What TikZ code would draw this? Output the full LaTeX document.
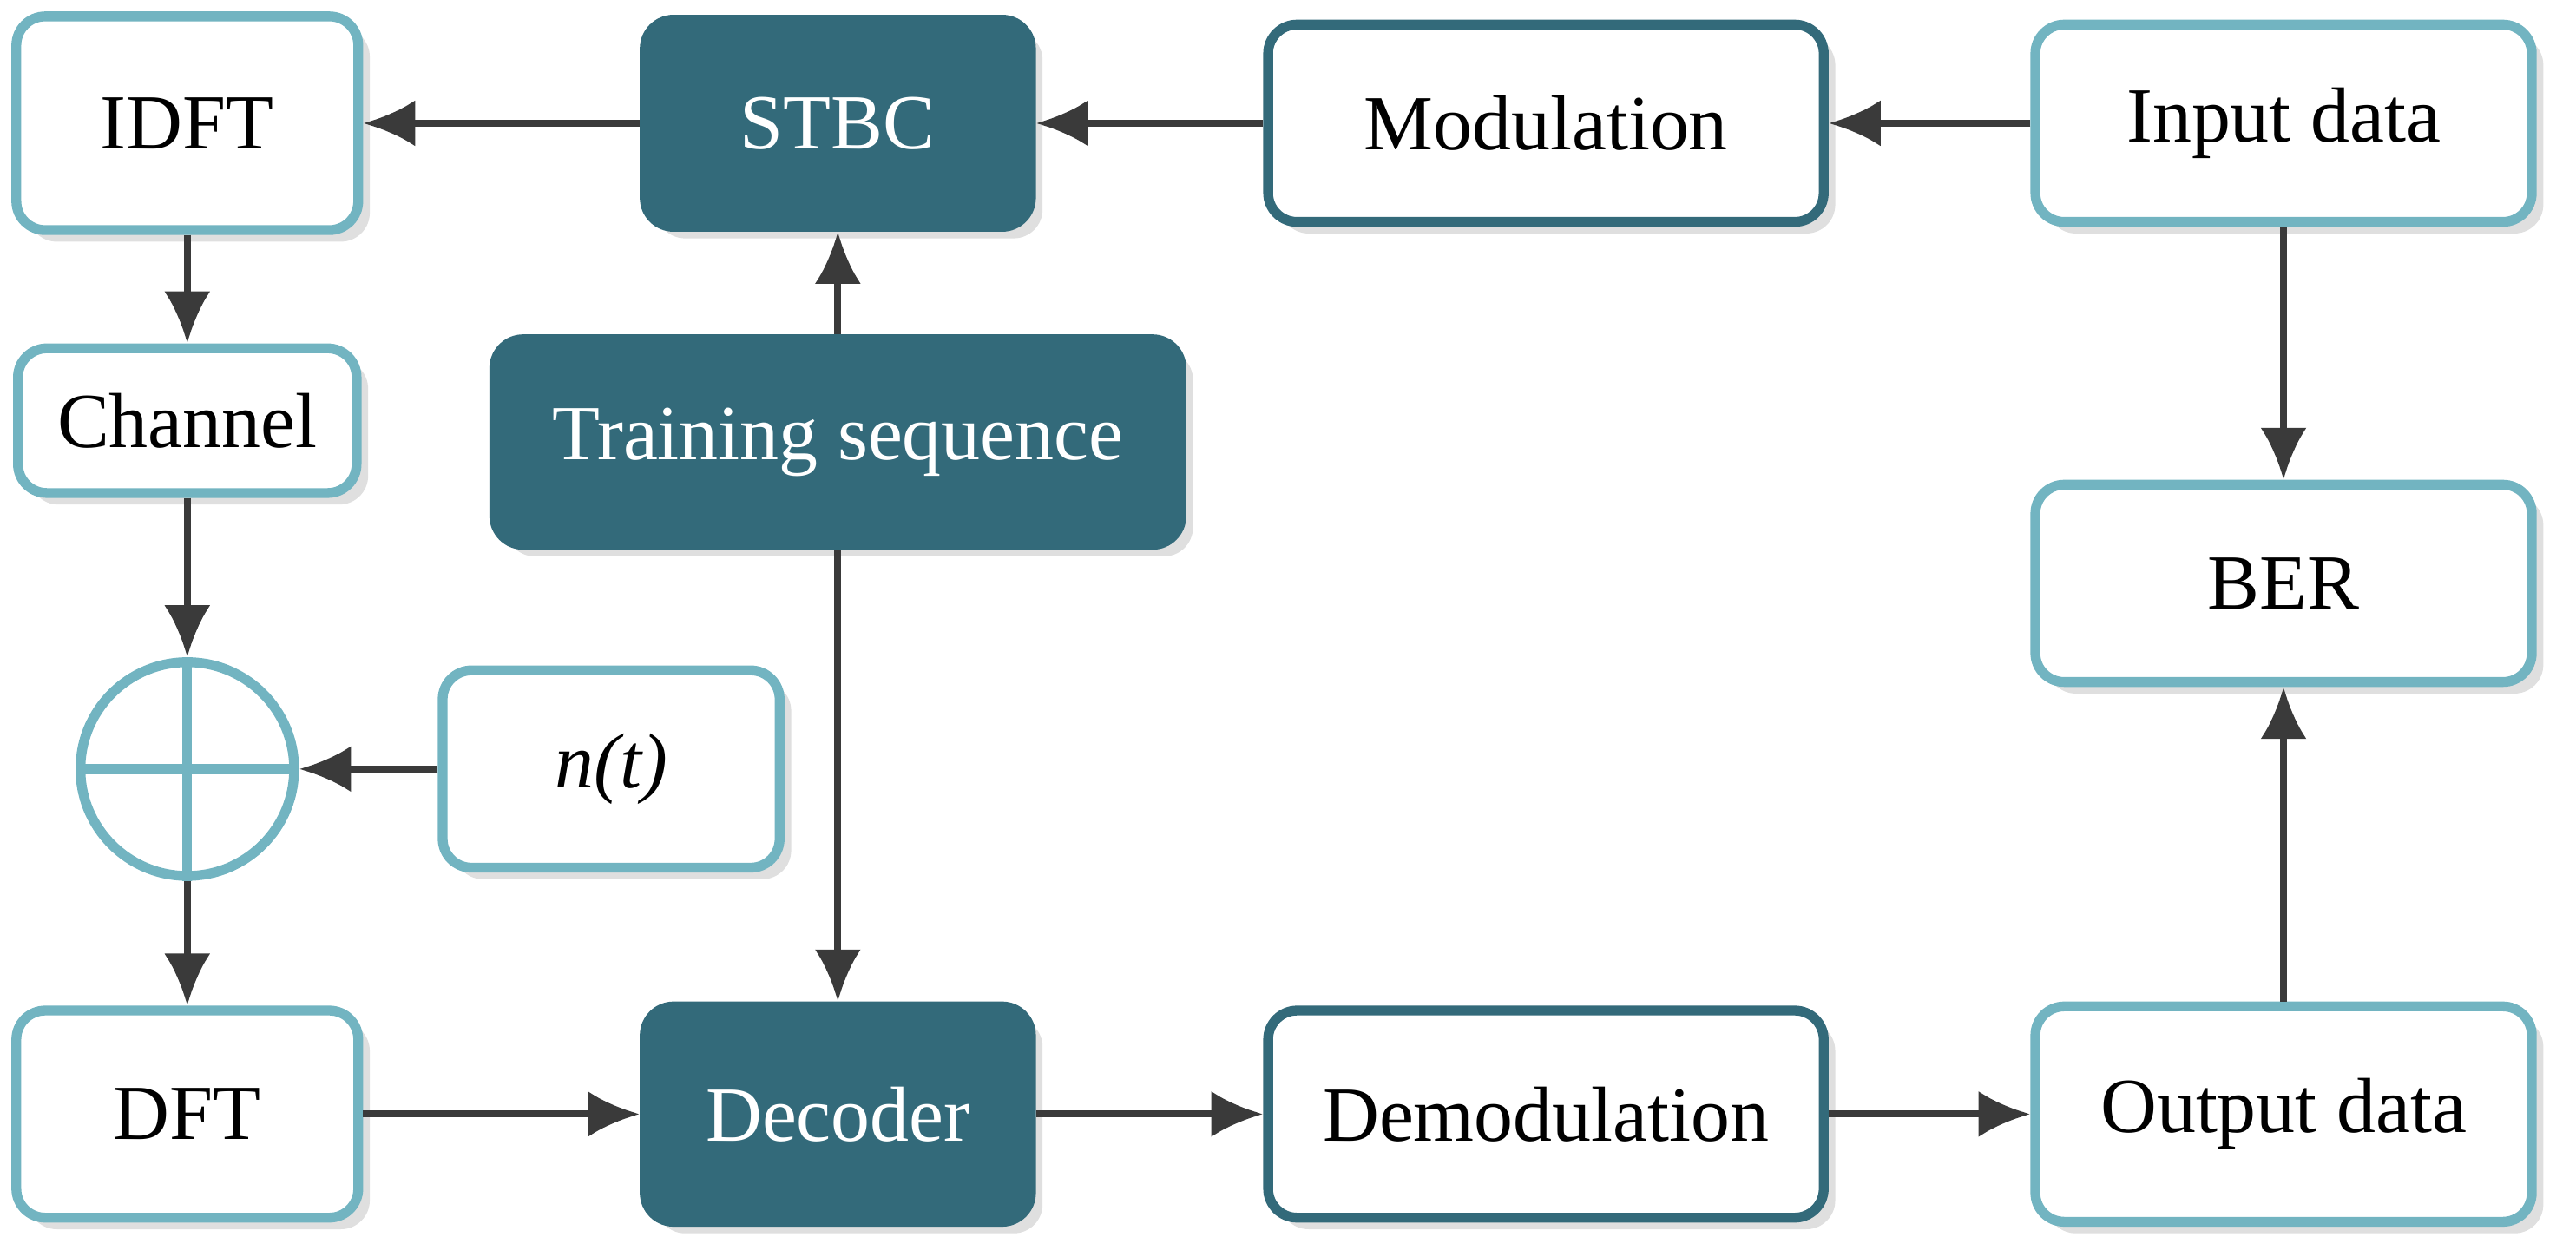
\documentclass[tikz,border=0pt]{standalone}
\usepackage{fontspec}
\setmainfont{Liberation Serif}
\usetikzlibrary{shadows,arrows.meta}
\definecolor{darkteal}{HTML}{336A7A}
\definecolor{lightteal}{HTML}{72B4C1}
\definecolor{arrowgray}{HTML}{3A3A3A}
\begin{document}
\begin{tikzpicture}[x=0.01cm,y=-0.01cm,
  box/.style={draw=lightteal,line width=1.7pt,rounded corners=5pt,fill=white,
    inner sep=0pt,font=\fontsize{13.5}{15}\selectfont,
    drop shadow={shadow xshift=2pt,shadow yshift=-2pt,opacity=0.25}},
  darkbox/.style={box,draw=darkteal},
  filledbox/.style={box,draw=darkteal,fill=darkteal,text=white},
  flow/.style={draw=arrowgray,line width=1.2pt,-{Latex[length=9pt,width=8pt]}}]
  \useasboundingbox (0,0) rectangle (1568,757);
  % Top row
  \node[box,minimum width=2.08cm,minimum height=1.3cm] (idft) at (114,75) {IDFT};
  \node[filledbox,minimum width=2.35cm,minimum height=1.26cm] (stbc) at (510,75) {STBC};
  \node[darkbox,minimum width=3.38cm,minimum height=1.2cm] (mod) at (941,75) {Modulation};
  \node[box,minimum width=3.02cm,minimum height=1.2cm] (input) at (1390,75) {Input data};
  % Middle
  \node[box,minimum width=2.06cm,minimum height=0.88cm] (channel) at (114,256) {Channel};
  \node[filledbox,minimum width=4.18cm,minimum height=1.25cm] (train) at (510,269) {Training sequence};
  \node[box,minimum width=3.02cm,minimum height=1.2cm] (ber) at (1390,355) {BER};
  \node[circle,draw=lightteal,line width=1.7pt,fill=white,minimum size=1.3cm,inner sep=0pt] (sum) at (114,468) {};
  \draw[lightteal,line width=1.7pt] (sum.north) -- (sum.south) (sum.west) -- (sum.east);
  \node[box,minimum width=2.05cm,minimum height=1.2cm,font=\fontsize{13.5}{15}\selectfont\itshape] (noise) at (372,468) {n(t)};
  % Bottom row
  \node[box,minimum width=2.08cm,minimum height=1.26cm] (dft) at (114,678) {DFT};
  \node[filledbox,minimum width=2.35cm,minimum height=1.31cm] (dec) at (510,678) {Decoder};
  \node[darkbox,minimum width=3.38cm,minimum height=1.26cm] (demod) at (941,678) {Demodulation};
  \node[box,minimum width=3.02cm,minimum height=1.31cm] (output) at (1390,678) {Output data};
  % Connectors
  \draw[flow] (input) -- (mod);
  \draw[flow] (mod) -- (stbc);
  \draw[flow] (stbc) -- (idft);
  \draw[flow] (idft) -- (channel);
  \draw[flow] (channel) -- (sum);
  \draw[flow] (noise) -- (sum);
  \draw[flow] (sum) -- (dft);
  \draw[flow] (dft) -- (dec);
  \draw[flow] (dec) -- (demod);
  \draw[flow] (demod) -- (output);
  \draw[flow] (output) -- (ber);
  \draw[flow] (input) -- (ber);
  \draw[flow] (train) -- (stbc);
  \draw[flow] (train) -- (dec);
\end{tikzpicture}
\end{document}
